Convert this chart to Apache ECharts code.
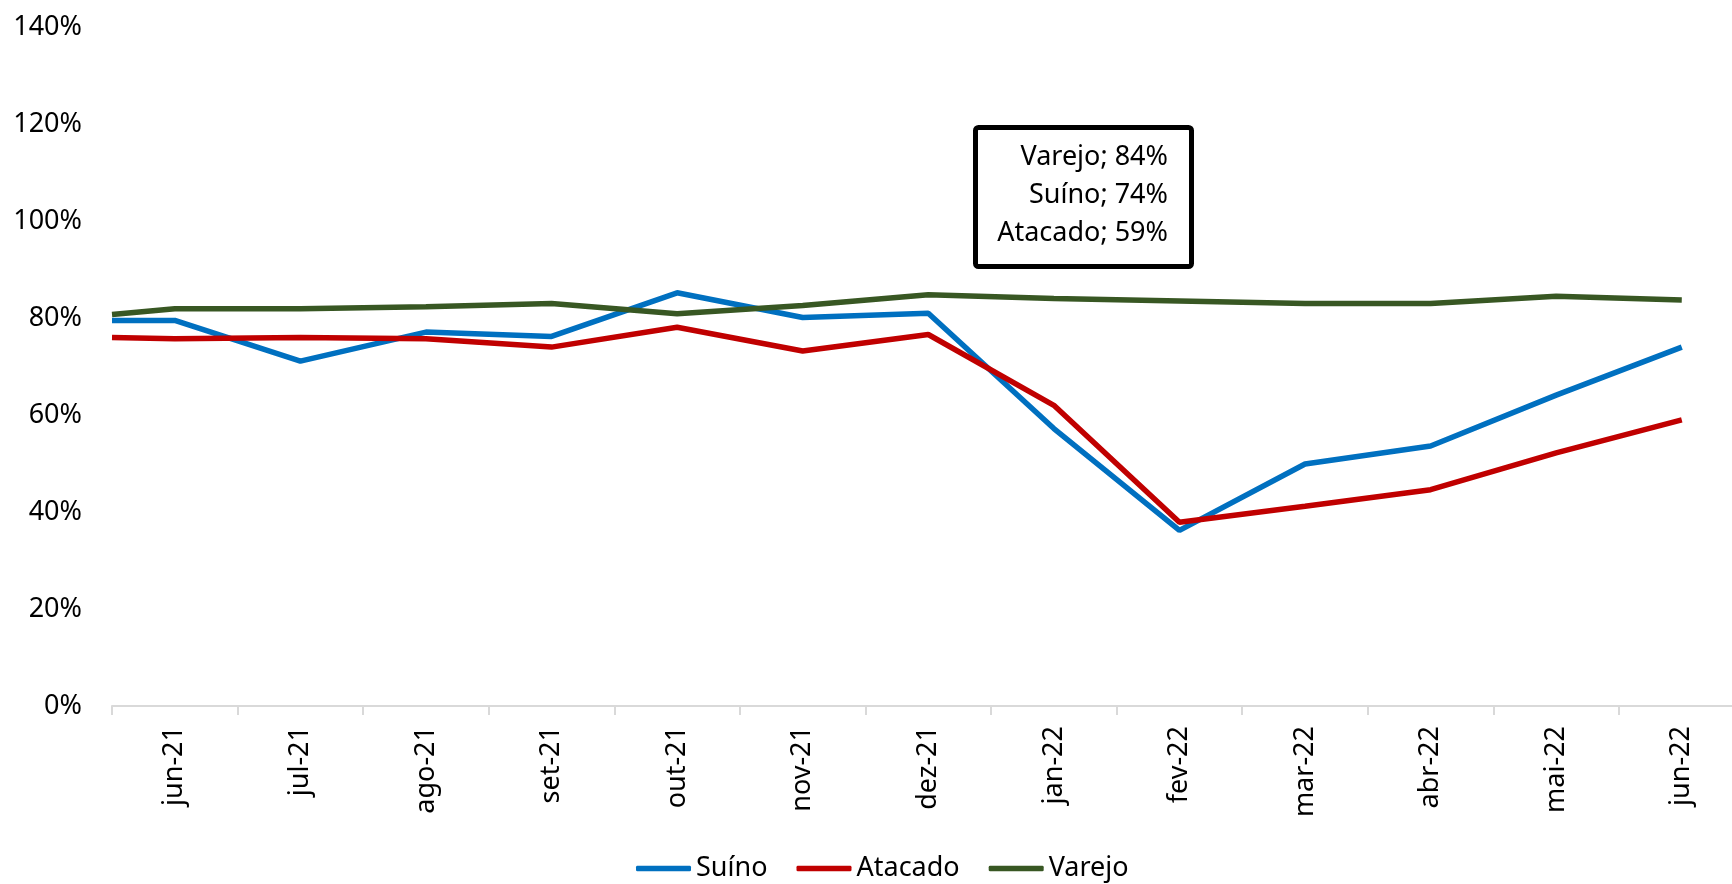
<!DOCTYPE html>
<html>
<head>
<meta charset="utf-8">
<script src="https://cdn.jsdelivr.net/npm/echarts@6/dist/echarts.min.js"></script>
<style>
  html, body { margin: 0; padding: 0; background: #fff; }
  #chart { width: 1732px; height: 884px; }
</style>
</head>
<body>
<div id="chart"></div>
<script>
// month labels on the x axis
const months = ['jun-21', 'jul-21', 'ago-21', 'set-21', 'out-21', 'nov-21', 'dez-21',
  'jan-22', 'fev-22', 'mar-22', 'abr-22', 'mai-22', 'jun-22']

// x position of each point (first point sits at the start of the axis)
const xPoints = [-0.5, 0, 1, 2, 3, 4, 5, 6, 7, 8, 9, 10, 11, 12]

// values in %
const suino = [79.5, 79.5, 71.1, 77.1, 76.2, 85.2, 80.1, 81.0, 57.2, 36.2, 49.9, 53.6, 64.1, 74.0]
const atacado = [76.0, 75.7, 76.0, 75.7, 74.0, 78.1, 73.2, 76.6, 62.0, 37.9, 41.2, 44.6, 52.2, 59.0]
const varejo = [80.7, 81.9, 81.9, 82.3, 83.0, 80.9, 82.6, 84.8, 84.0, 83.5, 83.0, 83.0, 84.5, 83.7]

const yTicks = [0, 20, 40, 60, 80, 100, 120, 140]

const FONT = 'Noto Sans'
const chart = echarts.init(document.getElementById('chart'))

function pairs(values) {
  return values.map((v, i) => [xPoints[i], v])
}

function last(values) {
  return Math.round(values[values.length - 1])
}

// labels shown in the box, last value of each series
const boxLines = [
  'Varejo; ' + last(varejo) + '%',
  'Suíno; ' + last(suino) + '%',
  'Atacado; ' + last(atacado) + '%'
]

const lineSeries = (name, values, color) => ({
  name,
  type: 'line',
  data: pairs(values),
  symbol: 'none',
  lineStyle: { width: 5.5, color },
  itemStyle: { color },
  z: 3
})

chart.setOption({
  animation: false,
  textStyle: { fontFamily: FONT },
  grid: { left: 112, right: 0, top: 27, bottom: 178 },
  xAxis: {
    type: 'value',
    min: -0.5,
    max: 12.4,
    axisLine: { show: true, lineStyle: { color: '#d9d9d9', width: 2 } },
    axisTick: {
      show: true,
      length: 9,
      lineStyle: { color: '#d9d9d9', width: 2 },
      customValues: months.map((m, i) => i - 0.5)
    },
    axisLabel: {
      customValues: months.map((m, i) => i),
      formatter: v => months[Math.round(v)],
      rotate: 90,
      margin: 20,
      fontSize: 27,
      color: '#000',
      fontFamily: FONT
    },
    splitLine: { show: false }
  },
  yAxis: {
    type: 'value',
    min: yTicks[0],
    max: yTicks[yTicks.length - 1],
    interval: 20,
    axisLine: { show: false },
    axisTick: { show: false },
    splitLine: { show: false },
    axisLabel: {
      formatter: '{value}%',
      fontSize: 27,
      color: '#000',
      margin: 30,
      fontFamily: FONT
    }
  },
  legend: {
    left: 631,
    top: 850,
    icon: 'roundRect',
    itemWidth: 55,
    itemHeight: 5.5,
    itemGap: 29,
    textStyle: { fontSize: 27, color: '#000', fontFamily: FONT },
    data: ['Suíno', 'Atacado', 'Varejo']
  },
  series: [
    lineSeries('Suíno', suino, '#0070C0'),
    lineSeries('Atacado', atacado, '#C00000'),
    lineSeries('Varejo', varejo, '#385723')
  ],
  graphic: [
    {
      type: 'rect',
      left: 973,
      top: 125,
      shape: { width: 216, height: 139, r: 3 },
      style: { fill: '#fff', stroke: '#000', lineWidth: 5 },
      z: 10
    }
  ].concat(boxLines.map((t, i) => ({
    type: 'text',
    x: 1168,
    y: 157 + i * 38,
    style: {
      text: t,
      fontSize: 27,
      fill: '#000',
      align: 'right',
      verticalAlign: 'middle',
      fontFamily: FONT
    },
    z: 11
  })))
})
</script>
</body>
</html>
